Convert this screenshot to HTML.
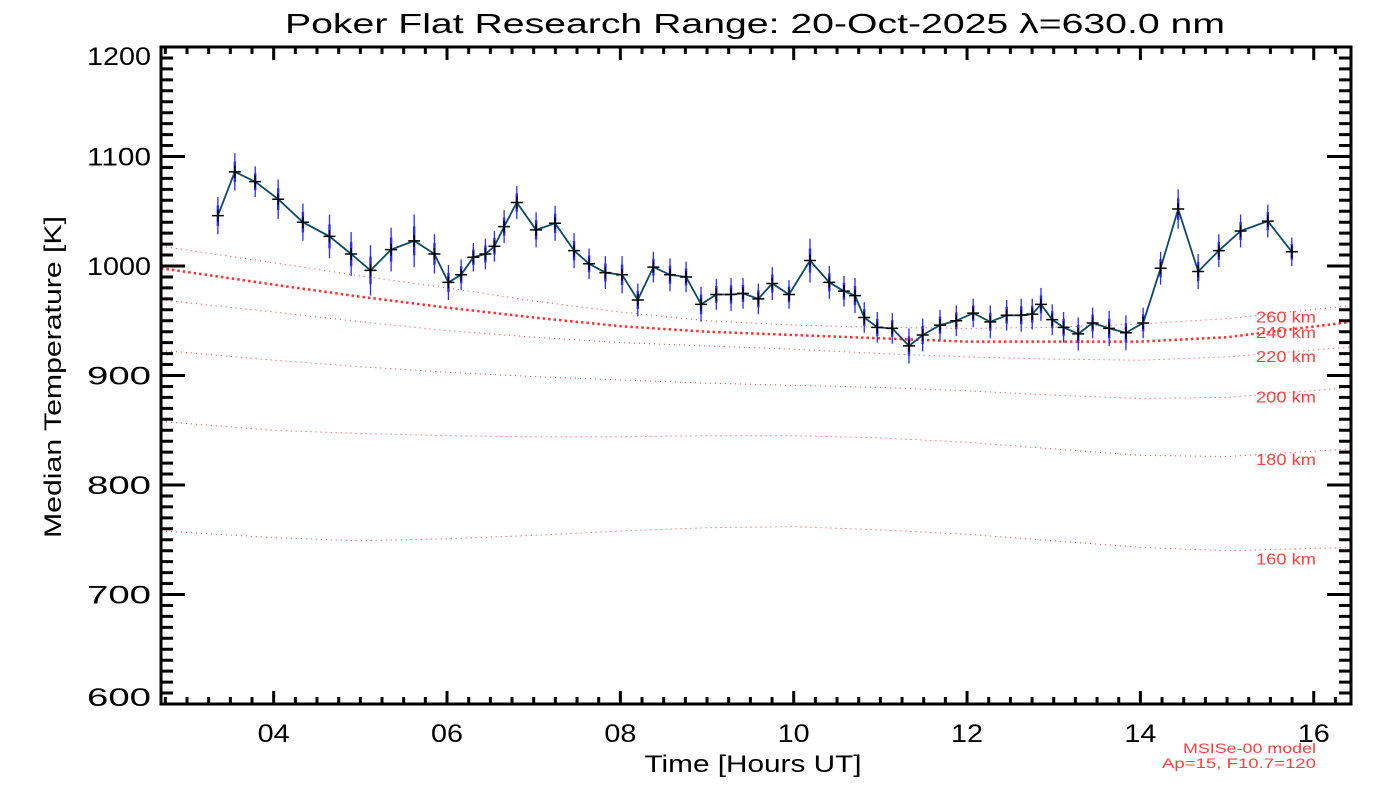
<!DOCTYPE html>
<html><head><meta charset="utf-8">
<style>
html,body{margin:0;padding:0;background:#fff;}
svg{display:block;font-family:"Liberation Sans",sans-serif;}
</style></head>
<body>
<svg id="chart" width="1400" height="800" viewBox="0 0 1400 800" xmlns="http://www.w3.org/2000/svg">
<rect width="1400" height="800" fill="#fff"/>
<text x="755" y="33" font-size="28" text-anchor="middle" textLength="940" lengthAdjust="spacingAndGlyphs">Poker Flat Research Range: 20-Oct-2025 λ=630.0 nm</text>
<text x="753" y="772" font-size="24" text-anchor="middle" textLength="217" lengthAdjust="spacingAndGlyphs">Time [Hours UT]</text>
<text transform="translate(61,377) rotate(-90)" font-size="24" text-anchor="middle" textLength="322" lengthAdjust="spacingAndGlyphs">Median Temperature [K]</text>
<text x="1316" y="753" font-size="14" fill="#ff4040" text-anchor="end" textLength="133" lengthAdjust="spacingAndGlyphs">MSISe-00 model</text>
<text x="1316" y="768" font-size="14" fill="#ff4040" text-anchor="end" textLength="154" lengthAdjust="spacingAndGlyphs">Ap=15, F10.7=120</text>
<g id="models"></g>
<g id="series"></g>
<g id="axes"></g>
</svg>
<script>
const hours = [3.356,3.552,3.787,4.052,4.337,4.644,4.894,5.117,5.355,5.621,5.855,6.016,6.163,6.304,6.443,6.547,6.659,6.805,7.028,7.247,7.466,7.639,7.827,8.020,8.201,8.381,8.573,8.758,8.931,9.107,9.277,9.415,9.592,9.753,9.946,10.188,10.411,10.580,10.707,10.814,10.964,11.137,11.330,11.488,11.688,11.876,12.071,12.268,12.457,12.625,12.752,12.853,12.983,13.114,13.283,13.449,13.640,13.833,14.032,14.233,14.436,14.667,14.905,15.156,15.470,15.747];
const temps = [1046,1086,1077,1061,1040,1027,1011,996,1015,1023,1011,985,992,1008,1011,1018,1036,1058,1033,1039,1014,1002,994,992,969,999,992,990,965,974,974,975,970,984,974,1005,985,977,973,953,944,943,927,937,946,950,957,949,955,955,956,965,951,944,938,948,943,939,948,998,1052,995,1014,1032,1041,1013];
const errors = [17,17,14,18,17,20,20,23,20,24,18,16,14,13,14,14,15,15,16,16,16,14,15,17,15,14,15,14,16,14,15,14,14,15,13,20,15,14,16,14,14,14,16,15,14,14,13,15,14,15,14,15,14,14,15,14,16,16,14,15,18,16,15,15,15,13];
const modelHours = [2.7,4,5,6,7,8,9,10,11,12,13,14,15,16.44];
const model160 = [758,752,749,751,754,758,761,762,759,755,749,743,740,743];
const model180 = [858,850,847,845,844,844,845,845,843,839,833,827,826,833];
const model200 = [923,914,908,903,899,896,893,891,889,886,882,879,880,889];
const model220 = [969,958,949,941,935,930,927,924,920,917,915,914,917,926];
const model240 = [998,983,972,962,953,945,940,937,934,931,931,931,935,949];
const model260 = [1018,1003,991,980,968,958,950,946,944,943,944,947,952,964];
const modelLabels = ["160 km","180 km","200 km","220 km","240 km","260 km"];
const labelYOffsets = [5,4,3,3,4,5];
const yTicks = [600,700,800,900,1000,1100,1200];
const xTicks = [4,6,8,10,12,14,16];
const xTickLabels = ["04","06","08","10","12","14","16"];

const L=161,R=1351,T=47,B=704,X0=2.7,X1=16.43,Y0=600,Y1=1200;
const sx=h=>L+(h-X0)/(X1-X0)*(R-L);
const sy=v=>B-(v-Y0)/(Y1-Y0)*(B-T);
const NS="http://www.w3.org/2000/svg";
function mk(tag,attrs,parent){const e=document.createElementNS(NS,tag);for(const k in attrs)e.setAttribute(k,attrs[k]);parent.appendChild(e);return e;}

const mg=document.getElementById('models');
const models=[model160,model180,model200,model220,model240,model260];
models.forEach((arr,i)=>{
  const pts=arr.map((v,j)=>sx(modelHours[j]).toFixed(1)+","+sy(v).toFixed(1)).join(" ");
  const thick=i===4;
  const p=mk('polyline',{points:pts,fill:'none',stroke:'#ff3030','stroke-width':thick?2.5:1,'stroke-dasharray':thick?'2.5 3':'1 4'},mg);
  
  
  const yEnd=sy(arr[arr.length-1]);
  const t=mk('text',{x:1316,y:(yEnd+labelYOffsets[i]+12).toFixed(1),'font-size':16,fill:'#ff4040','text-anchor':'end',textLength:60,lengthAdjust:'spacingAndGlyphs'},mg);
  t.textContent=modelLabels[i];
  
  
});

const sg=document.getElementById('series');
hours.forEach((h,i)=>{
  const x=sx(h),y=sy(temps[i]),e=errors[i]*(B-T)/(Y1-Y0);
  const l1=mk('line',{x1:x,x2:x,y1:y-e,y2:y+e,stroke:'#2a2aff','stroke-width':1.3},sg);
  
  
  const l2=mk('line',{x1:x,x2:x,y1:y-e*0.55,y2:y+e*0.55,stroke:'#2a2aff','stroke-width':2.4},sg);
  
  
});
const line=mk('polyline',{points:hours.map((h,i)=>sx(h).toFixed(1)+","+sy(temps[i]).toFixed(1)).join(" "),fill:'none',stroke:'#0c4a66','stroke-width':1.8},sg);


hours.forEach((h,i)=>{
  const x=sx(h),y=sy(temps[i]);
  const p=mk('path',{d:`M${x-6},${y}H${x+6}M${x},${y-6}V${y+6}`,stroke:'#000','stroke-width':1.5},sg);
  
  
});

const ag=document.getElementById('axes');
const fr=mk('rect',{x:L,y:T,width:R-L,height:B-T,fill:'none',stroke:'#000','stroke-width':3},ag);


for(let v=Y0;v<=Y1;v+=10){
  const y=sy(v),maj=(v%100===0),len=maj?24:12;
  const t=mk('path',{d:`M${L},${y}H${L+len}M${R},${y}H${R-len}`,stroke:'#000','stroke-width':3},ag);
  
  
}
yTicks.forEach(v=>{
  let y=sy(v)+9;
  if(v===Y1) y=sy(v)+18; if(v===Y0) y=sy(v)+2;
  const t=mk('text',{x:151,y:y,'font-size':25,'text-anchor':'end',textLength:64,lengthAdjust:'spacingAndGlyphs'},ag);
  t.textContent=String(v);
  
  
});
for(let h=2.75;h<=X1;h+=0.25){
  const x=sx(h),maj=Math.abs(h-Math.round(h))<1e-6&&Math.round(h)%2===0,len=maj?13:7;
  const t=mk('path',{d:`M${x},${B}V${B-len}M${x},${T}V${T+len}`,stroke:'#000','stroke-width':3},ag);
  
  
}
xTicks.forEach((h,i)=>{
  const t=mk('text',{x:sx(h),y:742,'font-size':25,'text-anchor':'middle',textLength:32,lengthAdjust:'spacingAndGlyphs'},ag);
  t.textContent=xTickLabels[i];
  
  
});
</script>
</body></html>
